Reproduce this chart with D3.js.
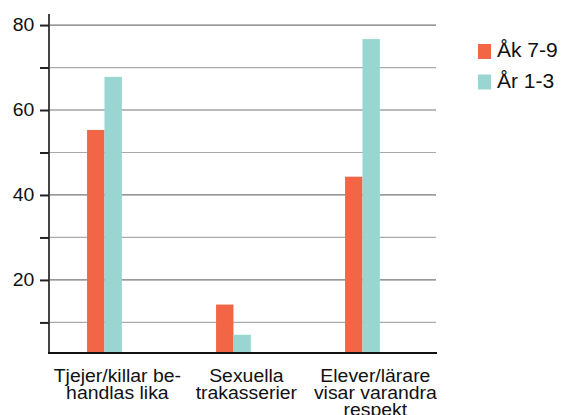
<!DOCTYPE html>
<html>
<head>
<meta charset="utf-8">
<script src="https://cdn.jsdelivr.net/npm/d3@7"></script>
<style>
  body { margin: 0; background: #fff; }
  svg { display: block; font-family: "Liberation Sans", Arial, sans-serif; }
</style>
</head>
<body>
<svg width="562" height="415"></svg>
<script>
// data
var categories = ["Tjejer/killar be-\nhandlas lika", "Sexuella\ntrakasserier", "Elever/lärare\nvisar varandra\nrespekt"]
var seriesNames = ["Åk 7-9", "År 1-3"]
var ak79 = [55.3, 14.2, 44.3]
var ar13 = [67.8, 7.1, 76.7]
var colors = ["#f26645", "#99d6d2"]
var majorTicks = [20, 40, 60, 80]
var allTicks = [10, 20, 30, 40, 50, 60, 70, 80]

var svg = d3.select("svg")

var x = d3.scaleBand().domain(categories).range([49, 436])
var x1 = d3.scaleBand().domain(seriesNames)
    .range([x.bandwidth() * 0.295, x.bandwidth() * 0.565])
var y = d3.scaleLinear().domain([2.8, 82.6]).range([353, 14])

// gridlines
svg.append("g")
    .selectAll("line")
    .data(allTicks)
    .enter().append("line")
    .attr("x1", 49).attr("x2", 436)
    .attr("y1", function (d) { return y(d) })
    .attr("y2", function (d) { return y(d) })
    .attr("stroke", function (d) { return majorTicks.indexOf(d) >= 0 ? "#777" : "#aaa" })
    .attr("stroke-width", 1.2)

// bars
var rows = categories.map(function (c, i) {
    return { cat: c, values: [ak79[i], ar13[i]] }
})

var groups = svg.append("g")
    .selectAll("g")
    .data(rows)
    .enter().append("g")
    .attr("transform", function (d) { return "translate(" + x(d.cat) + ",0)" })

groups.selectAll("rect")
    .data(function (d) {
        return d.values.map(function (v, j) { return { name: seriesNames[j], value: v, j: j } })
    })
    .enter().append("rect")
    .attr("x", function (d) { return x1(d.name) })
    .attr("width", x1.bandwidth())
    .attr("y", function (d) { return y(d.value) })
    .attr("height", function (d) { return y(2.8) - y(d.value) })
    .attr("fill", function (d) { return colors[d.j] })

// y axis
var yAxis = d3.axisLeft(y)
    .tickValues(allTicks)
    .tickSize(9)
    .tickPadding(5)
    .tickFormat(function (d) { return majorTicks.indexOf(d) >= 0 ? d : "" })

var ya = svg.append("g")
    .attr("transform", "translate(49,0)")
    .call(yAxis)
ya.select(".domain").attr("stroke", "#444").attr("stroke-width", 2)
    .attr("d", "M0," + y(82.6) + "V" + y(2.8))
ya.selectAll(".tick line").attr("stroke", "#222").attr("stroke-width", 2)
ya.selectAll(".tick text").attr("font-size", 18.5).attr("fill", "#111")
    .attr("font-family", "Liberation Sans, Arial, sans-serif")
    .attr("transform", "scale(1.05,1)")

// baseline
svg.append("line")
    .attr("x1", 48).attr("x2", 437)
    .attr("y1", y(2.8)).attr("y2", y(2.8))
    .attr("stroke", "#111").attr("stroke-width", 2)

// x labels
var xl = svg.append("g")
    .selectAll("text")
    .data(categories)
    .enter().append("text")
    .attr("text-anchor", "middle")
    .attr("font-size", 18.5)
    .attr("fill", "#111")
    .attr("transform", function (d) { return "translate(" + (x(d) + x.bandwidth() * 0.53) + ",382) scale(1.05,1)" })

xl.selectAll("tspan")
    .data(function (d) { return d.split("\n") })
    .enter().append("tspan")
    .attr("x", 0)
    .attr("y", function (d, i) { return i * 17 })
    .text(function (d) { return d })

// legend
var legend = svg.append("g")
    .selectAll("g")
    .data(seriesNames)
    .enter().append("g")
    .attr("transform", function (d, i) { return "translate(478," + (44 + i * 30.5) + ")" })

legend.append("rect")
    .attr("width", 13).attr("height", 15)
    .attr("fill", function (d, i) { return colors[i] })

legend.append("text")
    .attr("transform", "translate(19,13) scale(1.05,1)")
    .attr("font-size", 20)
    .attr("fill", "#111")
    .text(function (d) { return d })
</script>
</body>
</html>
